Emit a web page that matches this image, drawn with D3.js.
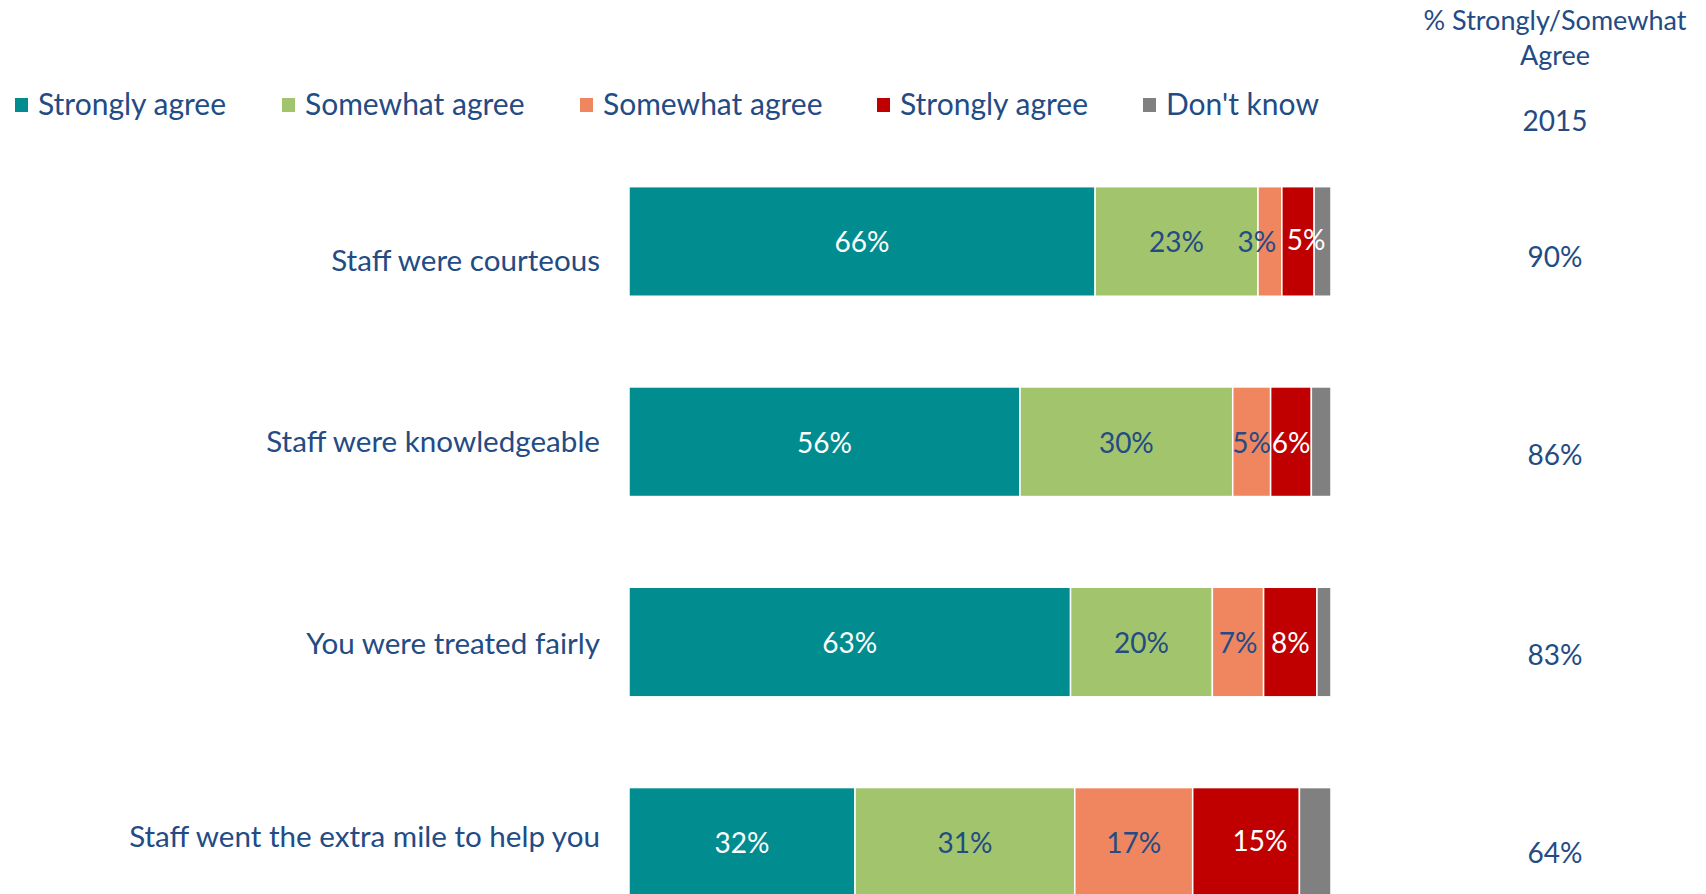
<!DOCTYPE html>
<html>
<head>
<meta charset="utf-8">
<script src="https://cdn.jsdelivr.net/npm/d3@7"></script>
<style>
  html, body { margin: 0; padding: 0; background: #fff; overflow: hidden; }
  text { font-family: Lato, "Open Sans", sans-serif; }
</style>
</head>
<body>
<svg></svg>
<script>
let w = 1706;
let h = 894;

// data
var statements = ["Staff were courteous", "Staff were knowledgeable", "You were treated fairly", "Staff went the extra mile to help you"];
var series = ["Strongly agree", "Somewhat agree", "Somewhat agree", "Strongly agree", "Don't know"];
var stronglyAgree = [66.4, 55.7, 62.9, 32.2];
var somewhatAgree = [23.2, 30.3, 20.2, 31.3];
var somewhatDisagree = [3.4, 5.4, 7.3, 16.8];
var stronglyDisagree = [4.6, 5.8, 7.6, 15.2];
var dontKnow = [2.4, 2.8, 2.0, 4.5];
var agree2015 = ["90%", "86%", "83%", "64%"];

var colors = ["#018c8f", "#a2c46c", "#f08660", "#c00000", "#808080"];
var labelColors = ["#ffffff", "#234b84", "#234b84", "#ffffff", null];
var textColor = "#234b84";

// small nudges, as in the original slide
var labelShift = [20, 0, 2, -5];
var totalShift = [3, 0, 0, -2];
var valueNudge = { "0-2": [-13, 0], "0-3": [8, -2], "3-3": [14, -2] };

var svg = d3.select("svg").attr("width", w).attr("height", h);

var keys = ["sa", "swa", "swd", "sd", "dk"];
var table = statements.map(function(s, i) {
    return {
        statement: s,
        sa: stronglyAgree[i], swa: somewhatAgree[i], swd: somewhatDisagree[i],
        sd: stronglyDisagree[i], dk: dontKnow[i], total: agree2015[i]
    };
});

var stack = d3.stack().keys(keys)(table);

var x = d3.scaleLinear().domain([0, 100]).range([629, 1331]);
var y = d3.scaleBand().domain(statements)
    .range([141.3, 942.5])
    .paddingInner(0.453)
    .paddingOuter(0.2265);

// bars
svg.append("g")
    .selectAll("g")
    .data(stack)
    .enter()
    .append("g")
    .attr("fill", function(d, i) { return colors[i]; })
    .selectAll("rect")
    .data(function(d) { return d; })
    .enter()
    .append("rect")
    .attr("x", function(d) { return x(d[0]); })
    .attr("y", function(d) { return y(d.data.statement); })
    .attr("width", function(d) { return x(d[1]) - x(d[0]); })
    .attr("height", y.bandwidth())
    .attr("stroke", "#fff")
    .attr("stroke-width", 1.5);

// value labels inside bars (not for "don't know"), on top of all bars
var labelData = [];
stack.forEach(function(layer, i) {
    if (!labelColors[i]) return;
    layer.forEach(function(p, row) { labelData.push({p: p, i: i, row: row}); });
});

function nudge(d, k) {
    var n = valueNudge[d.row + "-" + d.i];
    return n ? n[k] : 0;
}

var valueLabels = svg.append("g")
    .selectAll("text")
    .data(labelData)
    .enter()
    .append("text")
    .attr("x", function(d) { return (x(d.p[0]) + x(d.p[1])) / 2 + nudge(d, 0); })
    .attr("y", function(d) { return y(d.p.data.statement) + y.bandwidth() / 2 + 11 + nudge(d, 1); })
    .attr("text-anchor", "middle")
    .attr("fill", function(d) { return labelColors[d.i]; })
    .style("font-size", "28px")
    .text(function(d) { return Math.round(d.p[1] - d.p[0]) + "%"; });

// push apart labels of the small segments when they collide
statements.forEach(function(s, row) {
    var nodes = valueLabels.filter(function(d) { return d.row === row; }).nodes();
    nodes.sort(function(a, b) { return d3.select(a).datum().i - d3.select(b).datum().i; });
    for (var k = 1; k < nodes.length; k++) {
        var a = nodes[k - 1].getBBox(), b = nodes[k].getBBox();
        var overlap = a.x + a.width + 1 - b.x;
        if (overlap > 0) {
            var na = d3.select(nodes[k - 1]), nb = d3.select(nodes[k]);
            na.attr("x", +na.attr("x") - overlap / 2);
            nb.attr("x", +nb.attr("x") + overlap / 2);
        }
    }
});

// row labels
svg.append("g")
    .selectAll("text")
    .data(statements)
    .enter()
    .append("text")
    .attr("x", 600)
    .attr("y", function(d, i) { return y(d) + y.bandwidth() / 2 + 10 + labelShift[i]; })
    .attr("text-anchor", "end")
    .attr("fill", textColor)
    .style("font-size", "29.6px")
    .text(function(d) { return d; });

// right column: % strongly/somewhat agree
var rc = 1555;
var head = svg.append("g").attr("fill", textColor).attr("text-anchor", "middle");
head.append("text").attr("x", rc).attr("y", 30).style("font-size", "27px").text("% Strongly/Somewhat");
head.append("text").attr("x", rc).attr("y", 65).style("font-size", "27px").text("Agree");
head.append("text").attr("x", rc).attr("y", 131).style("font-size", "28px").text("2015");

svg.append("g")
    .selectAll("text")
    .data(table)
    .enter()
    .append("text")
    .attr("x", rc)
    .attr("y", function(d, i) { return y(d.statement) + y.bandwidth() / 2 + 23 + totalShift[i]; })
    .attr("text-anchor", "middle")
    .attr("fill", textColor)
    .style("font-size", "28px")
    .text(function(d) { return d.total; });

// legend
var legendX = [15, 282, 580, 877, 1143];
var legend = svg.append("g")
    .selectAll("g")
    .data(series)
    .enter()
    .append("g")
    .attr("transform", function(d, i) { return "translate(" + legendX[i] + ",98)"; });

legend.append("rect")
    .attr("width", 13)
    .attr("height", 14)
    .attr("fill", function(d, i) { return colors[i]; });

legend.append("text")
    .attr("x", 23)
    .attr("y", 17)
    .attr("fill", textColor)
    .style("font-size", "30px")
    .text(function(d) { return d; });
</script>
</body>
</html>
